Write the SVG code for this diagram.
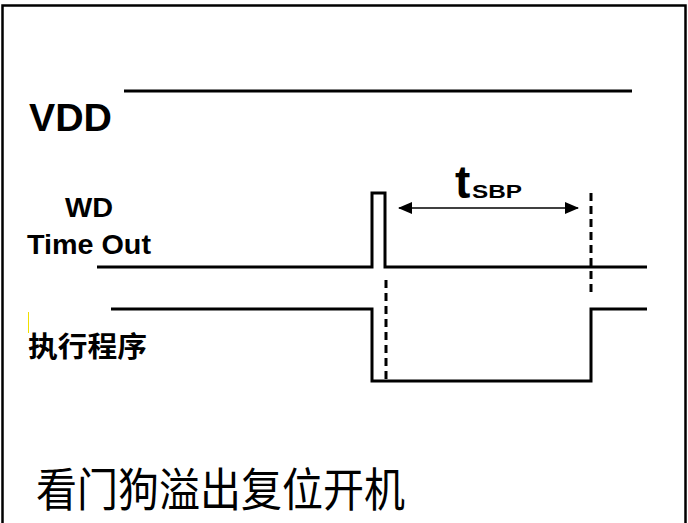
<svg xmlns="http://www.w3.org/2000/svg" width="688" height="523" viewBox="0 0 688 523">
<style>
.sig{fill:none;stroke:#000;stroke-width:3}
.dash{fill:none;stroke:#000;stroke-width:3;stroke-dasharray:8,5}
.lbl{font-family:"Liberation Sans",Arial,sans-serif;font-weight:bold;fill:#000}
.cjk{font-family:"Liberation Sans","Noto Sans CJK SC",sans-serif;fill:#000}
</style>
<defs>
<marker id="ah" markerWidth="14" markerHeight="12" refX="13" refY="6" orient="auto-start-reverse" markerUnits="userSpaceOnUse" viewBox="0 0 14 12">
<path d="M0,0 L14,6 L0,12 Z" fill="#000"/>
</marker>
</defs>
<rect x="0" y="0" width="688" height="523" fill="#fff"/>
<path d="M2.5,530 V5.5 H685.5 V530" fill="none" stroke="#000" stroke-width="2.5"/>
<g id="vdd">
<text class="lbl" x="29" y="131" font-size="39" textLength="83" lengthAdjust="spacingAndGlyphs">VDD</text>
<line class="sig" x1="124" y1="91" x2="632" y2="91"/>
</g>
<g id="wd">
<text class="lbl" x="65" y="217" font-size="27" textLength="48" lengthAdjust="spacingAndGlyphs">WD</text>
<text class="lbl" x="27" y="254" font-size="27" textLength="124" lengthAdjust="spacingAndGlyphs">Time Out</text>
<polyline class="sig" points="97,267 372,267 372,193 385,193 385,267 647,267"/>
</g>
<g id="prog">
<text class="cjk" x="28" y="357" font-size="28" font-weight="bold" textLength="119" lengthAdjust="spacingAndGlyphs">执行程序</text>
<line x1="28.5" y1="312" x2="28.5" y2="333" stroke="#f0e000" stroke-width="1"/>
<polyline class="sig" points="111,309 372,309 372,381 591,381 591,309 647,309"/>
</g>
<g id="connectors">
<line class="dash" x1="386" y1="280" x2="386" y2="381"/>
<line class="dash" x1="591" y1="193" x2="591" y2="296"/>
<line x1="399" y1="208" x2="578" y2="208" stroke="#000" stroke-width="1.5" marker-start="url(#ah)" marker-end="url(#ah)"/>
</g>
<g id="tsbp">
<text class="lbl" x="455" y="198" font-size="46">t</text>
<text class="lbl" x="472" y="198" font-size="19" textLength="50" lengthAdjust="spacingAndGlyphs">SBP</text>
</g>
<g id="title">
<text class="cjk" x="36" y="506" font-size="46" textLength="369" lengthAdjust="spacingAndGlyphs">看门狗溢出复位开机</text>
</g>
</svg>
